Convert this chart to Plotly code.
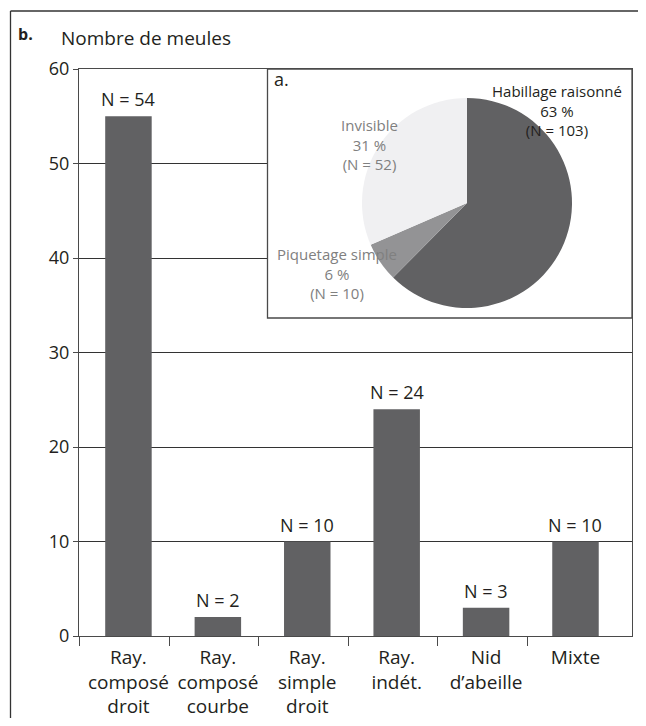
import plotly.graph_objects as go

# ---- data ----
categories = ["Ray.<br>composé<br>droit", "Ray.<br>composé<br>courbe", "Ray.<br>simple<br>droit",
              "Ray.<br>indét.", "Nid<br>d’abeille", "Mixte"]
bar_heights = [55, 2, 10, 24, 3, 10]
bar_labels = ["N = 54", "N = 2", "N = 10", "N = 24", "N = 3", "N = 10"]
y_ticks = [0, 10, 20, 30, 40, 50, 60]

pie_labels = ["Habillage raisonné", "Piquetage simple", "Invisible"]
pie_values = [103, 10, 52]
pie_pct = ["63 %", "6 %", "31 %"]
pie_colors = ["#616163", "#939395", "#f0f0f2"]
pie_text_colors = ["#231f20", "#808080", "#808080"]

# ---- layout geometry (reference-image pixels; page body adds an 8px margin) ----
OFF = 8
W, H = 646 - 2 * OFF, 726 - 2 * OFF   # keep page free of scrollbars
PLOT_L, PLOT_R, PLOT_T, PLOT_B = 79, 632, 69, 636   # reference pixels
ML, MT = PLOT_L - OFF, PLOT_T - OFF
MR = W - (PLOT_R - OFF)
MB = H - (PLOT_B - OFF)
PW = PLOT_R - PLOT_L
PH = PLOT_B - PLOT_T
FONT = "Open Sans"
INK = "#231f20"
LINE = "#4a4a4a"
X_RANGE = [-0.553, 5.632]
Y_RANGE = [0, 60]


def px(x):
    return (x - PLOT_L) / PW


def py(y):
    return (PLOT_B - y) / PH


def xdata(x):
    return X_RANGE[0] + px(x) * (X_RANGE[1] - X_RANGE[0])


def ydata(y):
    return Y_RANGE[0] + py(y) * (Y_RANGE[1] - Y_RANGE[0])


xpos = list(range(len(categories)))
bound_ticks = [X_RANGE[0]] + [i + 0.46 for i in range(len(categories) - 1)]

fig = go.Figure()
fig.add_trace(go.Bar(x=xpos, y=bar_heights, width=0.52,
                     marker=dict(color="#616163", line=dict(width=0)),
                     showlegend=False, hoverinfo="skip"))
fig.add_trace(go.Scatter(x=[0], y=[0], xaxis="x2", mode="markers",
                         marker=dict(opacity=0), showlegend=False, hoverinfo="skip"))

# pie inset
cx, cy, r = 467, 203, 105
fig.add_trace(go.Pie(values=pie_values, labels=pie_labels, sort=False, direction="clockwise",
                     rotation=0, textinfo="none", showlegend=False,
                     marker=dict(colors=pie_colors, line=dict(width=0)),
                     domain=dict(x=[px(cx - r), px(cx + r)], y=[py(cy + r), py(cy - r)])))

annotations = []
for xi, h, lab in zip(xpos, bar_heights, bar_labels):
    annotations.append(dict(x=xi, y=h, xref="x", yref="y", text=lab, showarrow=False,
                            yanchor="bottom", yshift=3, font=dict(family=FONT, size=18, color=INK)))

pie_label_pos = [(557, 110), (336.5, 273), (369, 144)]
for (lx, ly), lab, pct, v, col in zip(pie_label_pos, pie_labels, pie_pct, pie_values, pie_text_colors):
    annotations.append(dict(x=px(lx), y=py(ly), xref="paper", yref="paper",
                            text=f"{lab}<br>{pct}<br>(N = {v})", showarrow=False,
                            xanchor="center", yanchor="middle", align="center",
                            font=dict(family=FONT, size=15, color=col)))

annotations.append(dict(x=px(272), y=py(79), xref="paper", yref="paper", text="a.",
                        showarrow=False, xanchor="left", yanchor="middle",
                        font=dict(family=FONT, size=18, color=INK)))
annotations.append(dict(x=px(16), y=py(34), xref="paper", yref="paper", text="<b>b.</b>",
                        showarrow=False, xanchor="left", yanchor="middle",
                        font=dict(family=FONT, size=16, color=INK)))
annotations.append(dict(x=px(59), y=py(38), xref="paper", yref="paper", text="Nombre de meules",
                        showarrow=False, xanchor="left", yanchor="middle",
                        font=dict(family=FONT, size=19, color=INK)))

shapes = [
    # inset box (white, above gridlines, below traces)
    dict(type="rect", xref="x", yref="y", x0=xdata(267.5), x1=X_RANGE[1],
         y0=ydata(318), y1=Y_RANGE[1],
         fillcolor="white", line=dict(color=LINE, width=1.3), layer="between"),
    # outer frame: top and left edges (the rest is cropped off in the reference)
    dict(type="line", xref="paper", yref="paper", x0=px(10.5), x1=px(660), y0=py(11), y1=py(11),
         line=dict(color="#333333", width=1.3), layer="above"),
    dict(type="line", xref="paper", yref="paper", x0=px(10.5), x1=px(10.5), y0=py(11), y1=py(740),
         line=dict(color="#333333", width=1.3), layer="above"),
]

fig.update_layout(
    width=W, height=H,
    margin=dict(l=ML, r=MR, t=MT, b=MB, autoexpand=False),
    paper_bgcolor="white", plot_bgcolor="white",
    font=dict(family=FONT, size=18, color=INK),
    xaxis=dict(range=X_RANGE, tickvals=xpos, ticktext=categories, ticks="",
               tickfont=dict(family=FONT, size=19, color=INK), ticklabelstandoff=4,
               automargin=False,
               showline=True, mirror=True, linecolor=LINE, linewidth=1.3,
               showgrid=False, zeroline=False, fixedrange=True),
    xaxis2=dict(range=X_RANGE, overlaying="x", side="bottom", tickvals=bound_ticks,
                ticks="outside", ticklen=9, tickcolor=LINE, tickwidth=1.3, automargin=False,
                showticklabels=False, showline=False, showgrid=False, zeroline=False),
    yaxis=dict(range=Y_RANGE, tickvals=y_ticks, ticks="outside", ticklen=5, tickcolor=LINE,
               tickwidth=1.3, tickfont=dict(family=FONT, size=18, color=INK), automargin=False,
               showline=True, mirror=True, linecolor=LINE, linewidth=1.3,
               showgrid=True, gridcolor="#333333", gridwidth=1, zeroline=False),
    annotations=annotations,
    shapes=shapes,
)

fig.write_html("out.html")
